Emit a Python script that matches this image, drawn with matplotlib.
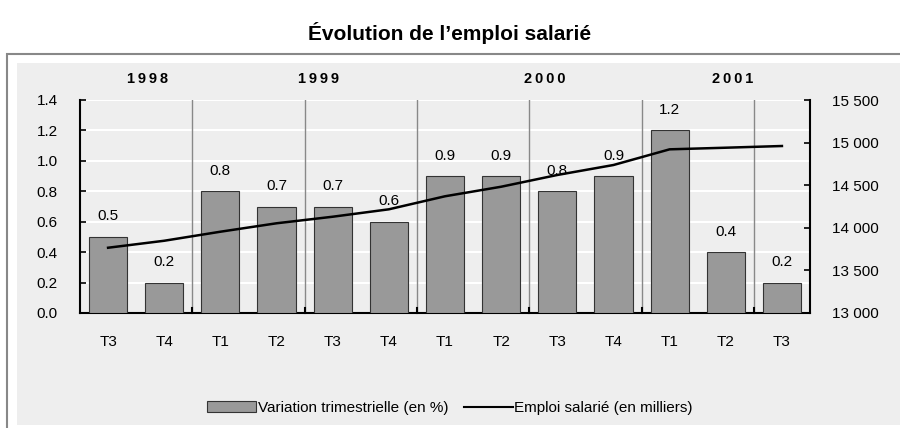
import numpy as np
import matplotlib.pyplot as plt
from matplotlib.patches import Rectangle
from matplotlib.lines import Line2D

plt.rcParams['font.family'] = ['Liberation Sans', 'DejaVu Sans']

quarters = ['T3', 'T4', 'T1', 'T2', 'T3', 'T4', 'T1', 'T2', 'T3', 'T4', 'T1', 'T2', 'T3']
years = ['1998', '1999', '2000', '2001']
year_pos = [0.71, 3.74, 7.78, 11.13]
variation = [0.5, 0.2, 0.8, 0.7, 0.7, 0.6, 0.9, 0.9, 0.8, 0.9, 1.2, 0.4, 0.2]
emploi = [13766, 13848, 13954, 14053, 14130, 14217, 14370, 14482, 14620, 14737, 14921, 14940, 14960]

fig = plt.figure(figsize=(9, 4.28), dpi=100)

# frame and background
fig.patches.append(Rectangle((7/900, -0.1), 1, 1.1 - 54/428, transform=fig.transFigure,
                             facecolor='white', edgecolor='#888888', lw=1.5, zorder=-3))
fig.patches.append(Rectangle((17/900, 3/428), 1, 1 - 63/428 - 3/428, transform=fig.transFigure,
                             facecolor='#eeeeee', edgecolor='none', zorder=-2))

ax = fig.add_axes([80/900, 1 - 313/428, 730/900, 213/428])
ax.set_facecolor('#eeeeee')
x = np.arange(len(quarters))
ax.bar(x, variation, width=0.68, color='#999999', edgecolor='#333333', lw=0.8, zorder=3)
for xi, v in zip(x, variation):
    ax.text(xi, v + 0.135, f'{v:.1f}', ha='center', va='center', fontsize=11, zorder=5)

ax.set_xlim(-0.5, len(quarters) - 0.5)
ax.set_ylim(0, 1.4)
ax.set_yticks(np.arange(0, 1.41, 0.2))
ax.set_yticklabels([f'{t:.1f}' for t in np.arange(0, 1.41, 0.2)], fontsize=11)
ax.set_xticks(x)
ax.set_xticklabels(quarters, fontsize=11)
ax.tick_params(axis='x', length=0, pad=16)
ax.tick_params(axis='y', length=4, width=1.2, direction='in', pad=16)
ax.yaxis.grid(True, color='white', lw=1.5, zorder=0)
for s in ['top', 'right']:
    ax.spines[s].set_visible(False)
ax.spines['left'].set_linewidth(1.5)
ax.spines['bottom'].set_linewidth(1.5)

# year separators
for b in [1.5, 3.5, 5.5, 7.5, 9.5, 11.5]:
    ax.axvline(b, color='#888888', lw=1, zorder=2)
    ax.plot([b, b], [0, 0.03], color='black', lw=1.5, zorder=4, clip_on=False)
for yl, yp in zip(years, year_pos):
    ax.text(yp, 1.54, '\u2009'.join(yl), ha='center', va='center', fontsize=10.5,
            fontweight='bold')

ax2 = ax.twinx()
ax2.plot(x, emploi, color='black', lw=1.8, zorder=6)
ax2.set_ylim(13000, 15500)
ax2.set_yticks(np.arange(13000, 15501, 500))
ax2.set_yticklabels([f'{int(t):,}'.replace(',', ' ') for t in np.arange(13000, 15501, 500)], fontsize=11)
ax2.tick_params(axis='y', length=4, width=1.2, direction='in', pad=16)
for s in ['top', 'left', 'bottom']:
    ax2.spines[s].set_visible(False)
ax2.spines['right'].set_linewidth(1.5)

fig.text(0.5, 1 - 33/428, 'Évolution de l’emploi salarié', ha='center', va='center',
         fontsize=15, fontweight='bold')

handles = [Rectangle((0, 0), 1, 1, facecolor='#999999', edgecolor='#333333', lw=0.8),
           Line2D([0], [0], color='black', lw=1.5)]
fig.legend(handles, ['Variation trimestrielle (en %)', 'Emploi salarié (en milliers)'],
           loc='center', bbox_to_anchor=(0.5, 1 - 408/428), ncol=2, frameon=False,
           fontsize=11, handlelength=3.2, handletextpad=0.1, columnspacing=1.0)

fig.savefig('out.png', dpi=100)
